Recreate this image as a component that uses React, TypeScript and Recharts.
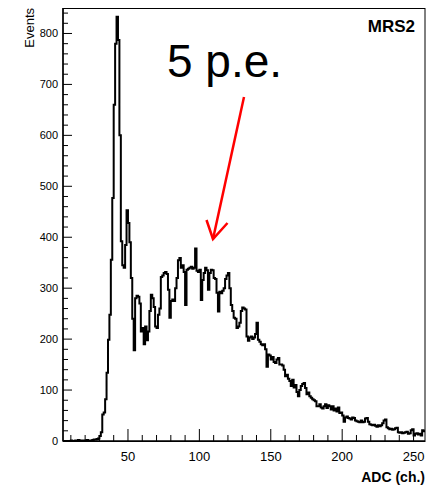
import { LineChart, Line, XAxis, YAxis } from "recharts";

// ADC histogram, one bin per channel, first bin starts at channel 4
const firstChannel = 4;

const pedestalCounts = [
  0, 0, 0, 0, 0, 0, 1, 0, 0, 1, 0, 2, 1, 0, 1, 0, 1, 2, 1, 0, 1, 2, 3, 3, 4,
  5, 10, 17, 52, 56, 82, 134, 199, 248, 356, 477, 660, 780, 833, 787, 600,
];
const bumpCounts = [
  392, 345, 340, 385, 453, 428, 390, 320, 240, 178, 280, 285, 283, 270, 215,
  222, 190, 225, 198, 215, 255, 287, 280, 263, 225, 222, 248, 260, 322, 325,
  330, 332, 328, 297, 242, 275, 278, 275, 300, 320, 355, 359, 340, 345, 332,
  267, 336, 338, 340, 342, 338, 340, 378, 334, 332, 336, 277, 316, 330, 340,
  335, 297, 330, 336, 335, 320, 318, 291, 254, 293, 290, 295, 300, 318, 325,
  330, 300, 267, 255, 242, 240, 222, 225, 232, 255, 262, 260, 258, 205, 197,
];
const tailCounts = [
  203, 205, 200, 203, 210, 232, 199, 195, 190, 188, 190, 180, 146, 170, 168,
  160, 165, 155, 153, 160, 163, 150, 150, 148, 140, 127, 130, 122, 118, 108,
  120, 105, 110, 96, 88, 100, 108, 112, 114, 104, 92, 95, 88, 85, 82, 80, 78,
  68, 68, 72, 66, 64, 68, 72, 65, 70, 68, 62, 68, 60, 64, 58, 66, 55, 56, 50,
  38, 46, 48, 45, 44, 42, 46, 45, 40, 39, 38, 37, 40, 37, 38, 44, 45, 38, 33,
  32, 31, 32, 30, 28, 31, 29, 31, 35, 40, 42, 27, 25, 23, 24, 22, 23, 25, 26,
  17, 16, 17, 15, 16, 17, 18, 14, 15, 21, 23, 11, 14, 15, 13, 14, 11, 21, 19,
];

const xTicks = [
  10, 20, 30, 40, 50, 60, 70, 80, 90, 100, 110, 120, 130, 140, 150, 160, 170,
  180, 190, 200, 210, 220, 230, 240, 250,
];
const yTicks = [
  0, 20, 40, 60, 80, 100, 120, 140, 160, 180, 200, 220, 240, 260, 280, 300,
  320, 340, 360, 380, 400, 420, 440, 460, 480, 500, 520, 540, 560, 580, 600,
  620, 640, 660, 680, 700, 720, 740, 760, 780, 800, 820, 840,
];

const counts = [...pedestalCounts, ...bumpCounts, ...tailCounts];
const data = counts.map((n, i) => ({ adc: firstChannel + i, n }));
// closing edge of the last bin
data.push({ adc: firstChannel + counts.length, n: counts[counts.length - 1] });

const FONT = "'Liberation Sans', Arial, Helvetica, sans-serif";

function XTick(props: any) {
  const { x, y, payload } = props;
  const major = payload.value % 50 === 0;
  return (
    <g>
      <line x1={x} x2={x} y1={y} y2={y - (major ? 12 : 6)} stroke="#000" />
      {major && (
        <text x={x} y={y + 20} textAnchor="middle" fontSize={13} fontFamily={FONT} fill="#000">
          {payload.value}
        </text>
      )}
    </g>
  );
}

function YTick(props: any) {
  const { x, y, payload } = props;
  const major = payload.value % 100 === 0;
  return (
    <g>
      <line x1={x} x2={x + (major ? 9 : 5)} y1={y} y2={y} stroke="#000" />
      {major && (
        <text x={x - 5} y={y + 4} textAnchor="end" fontSize={11} fontFamily={FONT} fill="#000">
          {payload.value}
        </text>
      )}
    </g>
  );
}

export default function App() {
  return (
    <div style={{ position: "absolute", left: 0, top: 0, width: 437, height: 485, background: "#fff" }}>
      <LineChart width={437} height={485} data={data} margin={{ top: 8, right: 12, left: 0, bottom: 0 }}>
        <XAxis
          dataKey="adc"
          type="number"
          domain={[4.5, 258]}
          allowDataOverflow
          ticks={xTicks}
          interval={0}
          tickSize={0}
          tickMargin={0}
          tickLine={false}
          tick={<XTick />}
          height={44}
          axisLine={{ stroke: "#000", strokeWidth: 1.5 }}
        />
        <YAxis
          type="number"
          domain={[0, 850]}
          allowDataOverflow
          ticks={yTicks}
          interval={0}
          tickSize={0}
          tickMargin={0}
          tickLine={false}
          tick={<YTick />}
          width={63}
          axisLine={{ stroke: "#000", strokeWidth: 1.5 }}
        />
        <Line
          dataKey="n"
          type="stepAfter"
          stroke="#000"
          strokeWidth={2}
          dot={false}
          isAnimationActive={false}
        />
      </LineChart>
      <svg
        width={437}
        height={485}
        style={{ position: "absolute", left: 0, top: 0, pointerEvents: "none" }}
      >
        <rect x={63} y={8.5} width={362} height={433} fill="none" stroke="#000" strokeWidth={1} />
        <text
          transform="translate(34,8) rotate(-90)"
          textAnchor="end"
          fontSize={13}
          fontFamily={FONT}
          fill="#000"
        >
          Events
        </text>
        <text x={425} y={482} textAnchor="end" fontSize={14} fontWeight="bold" fontFamily={FONT} fill="#000">
          ADC (ch.)
        </text>
        <text x={415} y={32} textAnchor="end" fontSize={17} fontWeight="bold" fontFamily={FONT} fill="#000">
          MRS2
        </text>
        <text x={167} y={77} fontSize={46} fontFamily={FONT} fill="#000">
          5 p.e.
        </text>
        <line x1={244} y1={97} x2={213} y2={239} stroke="#ff0000" strokeWidth={2.5} />
        <polyline
          points="206.5,220 213,239 227.5,223"
          fill="none"
          stroke="#ff0000"
          strokeWidth={2.5}
        />
      </svg>
    </div>
  );
}
